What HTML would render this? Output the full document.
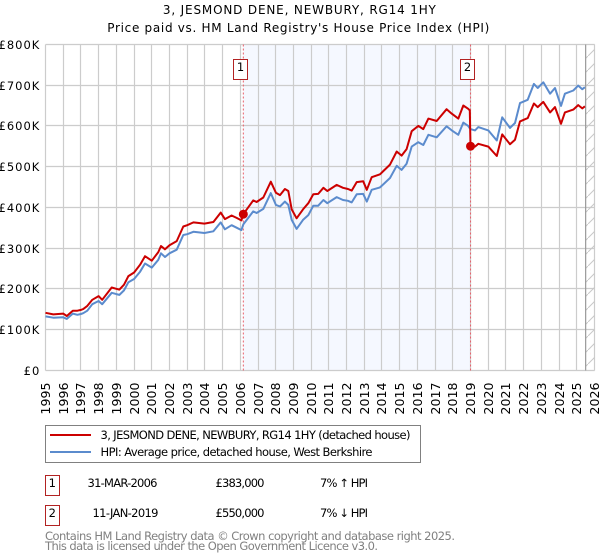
<!DOCTYPE html>
<html>
<head>
<meta charset="utf-8">
<title>3, JESMOND DENE, NEWBURY, RG14 1HY</title>
<style>
html,body{margin:0;padding:0;background:#fff;}
svg{display:block;}
text{font-family:"DejaVu Sans","Liberation Sans",sans-serif;fill:#000;}
</style>
</head>
<body>
<svg id="chart" xmlns="http://www.w3.org/2000/svg" width="600" height="560" viewBox="0 0 600 560">
  <defs>
    <pattern id="hatch" patternUnits="userSpaceOnUse" width="14" height="14">
      <path d="M-1 15 L15 -1" stroke="#c8c8c8" stroke-width="1" fill="none"/>
    </pattern>
  </defs>
  <rect x="0" y="0" width="600" height="560" fill="#fff"/>
  <text x="299.4" y="14" text-anchor="middle" font-size="12" textLength="273" lengthAdjust="spacing">3, JESMOND DENE, NEWBURY, RG14 1HY</text>
  <text x="298.3" y="32" text-anchor="middle" font-size="12" textLength="382" lengthAdjust="spacing">Price paid vs. HM Land Registry's House Price Index (HPI)</text>
  <g id="plot"></g>

  <g>
    <rect x="45.5" y="425.5" width="375" height="37" fill="#fff" stroke="#808080" stroke-width="1"/>
    <line x1="50" x2="91" y1="435" y2="435" stroke="#cc0000" stroke-width="2"/>
    <text x="100.5" y="439" font-size="11.5" textLength="310" lengthAdjust="spacing">3, JESMOND DENE, NEWBURY, RG14 1HY (detached house)</text>
    <line x1="50" x2="91" y1="452" y2="452" stroke="#5b8bcd" stroke-width="2"/>
    <text x="100.5" y="456" font-size="11.5" textLength="272" lengthAdjust="spacing">HPI: Average price, detached house, West Berkshire</text>
  </g>

  <g>
    <rect x="45.5" y="475.5" width="14" height="20" fill="#fff" stroke="#b22222" stroke-width="1"/>
    <text x="52.3" y="487" text-anchor="middle" font-size="11.5">1</text>
    <text x="87.5" y="487" font-size="11.5" textLength="70" lengthAdjust="spacing">31-MAR-2006</text>
    <text x="215.5" y="487" font-size="11.5" textLength="49" lengthAdjust="spacing">£383,000</text>
    <text x="320" y="487" font-size="11.5" textLength="48" lengthAdjust="spacing">7% ↑ HPI</text>
  </g>
  <g>
    <rect x="45.5" y="505.5" width="14" height="20" fill="#fff" stroke="#b22222" stroke-width="1"/>
    <text x="52.3" y="517" text-anchor="middle" font-size="11.5">2</text>
    <text x="92.5" y="517" font-size="11.5" textLength="66" lengthAdjust="spacing">11-JAN-2019</text>
    <text x="215.5" y="517" font-size="11.5" textLength="49" lengthAdjust="spacing">£550,000</text>
    <text x="320" y="517" font-size="11.5" textLength="48" lengthAdjust="spacing">7% ↓ HPI</text>
  </g>

  <text x="45" y="540" font-size="11.5" textLength="410" lengthAdjust="spacing" style="fill:#808080">Contains HM Land Registry data © Crown copyright and database right 2025.</text>
  <text x="45" y="550" font-size="11.5" textLength="333" lengthAdjust="spacing" style="fill:#808080">This data is licensed under the Open Government Licence v3.0.</text>
</svg>

<script>
const yTickValues = [0, 100, 200, 300, 400, 500, 600, 700, 800];
const yTickLabels = ["£0", "£100K", "£200K", "£300K", "£400K", "£500K", "£600K", "£700K", "£800K"];
const xTickYears = [1995, 1996, 1997, 1998, 1999, 2000, 2001, 2002, 2003, 2004, 2005, 2006, 2007, 2008, 2009, 2010, 2011, 2012, 2013, 2014, 2015, 2016, 2017, 2018, 2019, 2020, 2021, 2022, 2023, 2024, 2025, 2026];
const dates = [1995.0, 1995.44, 1996.0, 1996.2, 1996.54, 1996.8, 1997.0, 1997.13, 1997.36, 1997.64, 1998.0, 1998.2, 1998.74, 1999.0, 1999.17, 1999.43, 1999.68, 2000.0, 2000.34, 2000.62, 2001.0, 2001.37, 2001.52, 2001.75, 2002.0, 2002.41, 2002.78, 2003.0, 2003.35, 2003.97, 2004.48, 2004.89, 2005.13, 2005.51, 2005.79, 2006.06, 2006.17, 2006.73, 2006.92, 2007.3, 2007.72, 2008.01, 2008.24, 2008.52, 2008.71, 2008.9, 2009.18, 2009.54, 2009.84, 2010.12, 2010.4, 2010.69, 2010.91, 2011.44, 2011.8, 2012.08, 2012.29, 2012.57, 2012.94, 2013.14, 2013.42, 2013.89, 2014.45, 2014.83, 2015.11, 2015.39, 2015.68, 2016.05, 2016.33, 2016.62, 2017.09, 2017.65, 2017.94, 2018.31, 2018.59, 2018.87, 2018.96, 2019.0, 2019.25, 2019.44, 2020.0, 2020.48, 2020.79, 2021.23, 2021.51, 2021.79, 2022.23, 2022.58, 2022.79, 2023.11, 2023.49, 2023.77, 2024.11, 2024.33, 2024.8, 2025.08, 2025.31, 2025.46];
const hpiValues = [132, 129, 130, 126, 139, 136, 138, 140, 146, 162, 170, 162, 190, 187, 185, 196, 216, 224, 242, 262, 252, 271, 287, 278, 287, 296, 332, 334, 340, 337, 341, 363, 346, 356, 350, 344, 358, 390, 386, 396, 435, 406, 402, 414, 406, 369, 347, 369, 381, 404, 404, 418, 410, 425, 418, 416, 412, 432, 433, 414, 443, 449, 472, 502, 492, 507, 549, 560, 553, 578, 572, 599, 589, 578, 608, 600, 594, 592, 589, 597, 589, 564, 621, 595, 607, 656, 664, 703, 693, 707, 679, 693, 649, 679, 687, 699, 690, 695];
const paidValues = [141, 137, 139, 133, 146, 146, 148, 150, 158, 173, 182, 173, 203, 200, 198, 210, 231, 240, 259, 280, 269, 290, 305, 297, 307, 317, 353, 356, 363, 360, 364, 387, 371, 380, 374, 368, 383, 417, 413, 424, 463, 436, 430, 445, 440, 395, 373, 395, 410, 432, 433, 448, 440, 455, 448, 445, 441, 462, 464, 443, 474, 481, 505, 537, 527, 543, 587, 600, 592, 618, 612, 641, 630, 618, 650, 642, 638, 550, 549, 556, 549, 526, 579, 555, 566, 611, 619, 655, 646, 659, 633, 646, 605, 633, 640, 651, 643, 648];
const saleYears = [2006.17, 2019.0];
const saleValues = [383, 550];
const saleLabels = ["1", "2"];
const dataEndYear = 2025.5;

const NS = "http://www.w3.org/2000/svg";
const plot = document.getElementById("plot");
const LEFT = 45.5, RIGHT = 594.7, TOP = 44.5, BOTTOM = 370.5;
function xScale(year) { return 45.5 + (year - 1995) * 17.71; }
function yScale(value) { return 370.2 - value * 0.4072; }
function crisp(p) { return Math.floor(p) + 0.5; }
function make(tag, attrs, parent) {
  const el = document.createElementNS(NS, tag);
  for (const k in attrs) el.setAttribute(k, attrs[k]);
  (parent || plot).appendChild(el);
  return el;
}

// sale-period shading
const shade = make("rect", {x: xScale(saleYears[0]), y: TOP, width: xScale(saleYears[1]) - xScale(saleYears[0]), height: BOTTOM - TOP, fill: "#f5f8ff"});



// gridlines
yTickValues.forEach(function (v, i) {
  const y = crisp(yScale(v));
  const g = make("line", {x1: LEFT, x2: RIGHT, y1: y, y2: y, stroke: "#cccccc", "stroke-width": 1.2});
  
  
  const t = make("text", {x: 40.3, y: y + 4.3, "text-anchor": "end", "font-size": 11.5, "letter-spacing": 1});
  
  
  t.textContent = yTickLabels[i];
});
xTickYears.forEach(function (yr) {
  const x = crisp(xScale(yr));
  const g = make("line", {x1: x, x2: x, y1: TOP, y2: BOTTOM, stroke: "#cccccc", "stroke-width": 1.2});
  
  
  const t = make("text", {x: 0, y: 0, "text-anchor": "end", "font-size": 12.6, transform: "translate(" + (x + 4.5) + ",382.5) rotate(-90)"});
  
  
  t.textContent = String(yr);
});

// forecast / no-data hatch
const hatchX = xScale(dataEndYear);
const hatch = make("rect", {x: hatchX, y: TOP, width: RIGHT - hatchX, height: BOTTOM - TOP, fill: "url(#hatch)"});


const endLine = make("line", {x1: hatchX, x2: hatchX, y1: TOP, y2: BOTTOM, stroke: "#999999", "stroke-width": 1.2});



// sale marker lines
saleYears.forEach(function (yr) {
  const x = xScale(yr);
  const l = make("line", {x1: x, x2: x, y1: TOP, y2: BOTTOM, stroke: "#e8606a", "stroke-width": 1, "stroke-dasharray": "2,2"});
  
  
});

function linePoints(values) {
  return values.map(function (v, i) { return xScale(dates[i]).toFixed(1) + "," + yScale(v).toFixed(1); }).join(" ");
}
const hpiLine = make("polyline", {points: linePoints(hpiValues), fill: "none", stroke: "#5b8bcd", "stroke-width": 2, "stroke-linejoin": "round"});


const paidLine = make("polyline", {points: linePoints(paidValues), fill: "none", stroke: "#cc0000", "stroke-width": 2, "stroke-linejoin": "round"});



// sale markers and flags
saleYears.forEach(function (yr, i) {
  const c = make("circle", {cx: xScale(yr), cy: yScale(saleValues[i]), r: 4.5, fill: "#cc0000"});
  
  
  const bx = Math.floor(xScale(yr)) - 9.5;
  const b = make("rect", {x: bx, y: 59.5, width: 14, height: 20, fill: "#fff", stroke: "#b22222", "stroke-width": 1});
  
  
  const t = make("text", {x: bx + 7, y: 71, "text-anchor": "middle", "font-size": 11.5});
  
  
  t.textContent = saleLabels[i];
});
</script>
</body>
</html>
